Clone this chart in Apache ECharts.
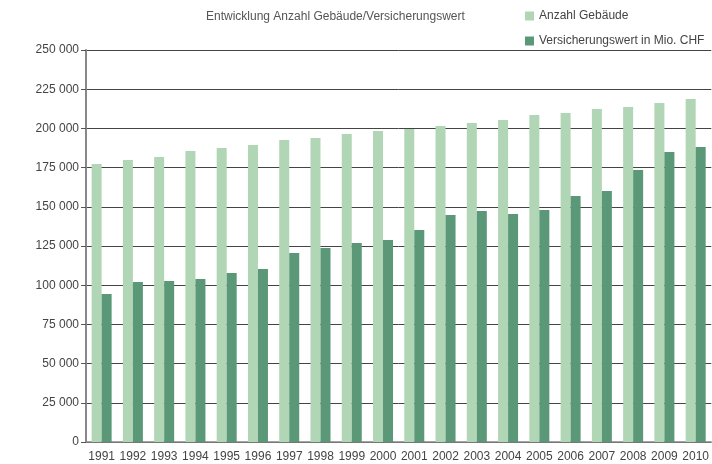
<!DOCTYPE html>
<html>
<head>
    <meta charset="utf-8">
    <title>ECharts</title>
    <script src="https://cdn.jsdelivr.net/npm/echarts@6/dist/echarts.min.js"></script>
    <style>
        body { margin: 0; background: #fff; }
    </style>
</head>
<body>
    <div id="main" style="width: 712px;height:464px;"></div>
    <script type="text/javascript">
        // Jahre
        var years = ['1991', '1992', '1993', '1994', '1995', '1996', '1997', '1998', '1999', '2000',
                     '2001', '2002', '2003', '2004', '2005', '2006', '2007', '2008', '2009', '2010'];
        // Anzahl Gebäude
        var anzahl = [177300, 179800, 181800, 185600, 187500, 189400, 192600, 193900, 196400, 198300,
                      199600, 201500, 203400, 205400, 208500, 209800, 212400, 213600, 216200, 218800];
        // Versicherungswert in Mio. CHF
        var wert = [94400, 102000, 102700, 104000, 107800, 110300, 120500, 123700, 126900, 128800,
                    135200, 144800, 147300, 145400, 148000, 156900, 160100, 173500, 184900, 188100];

        var myChart = echarts.init(document.getElementById('main'));
        var font = 'Liberation Sans, Arial, sans-serif';
        var option = {
            animation: false,
            textStyle: { fontFamily: font },
            title: {
                text: 'Entwicklung Anzahl Gebäude/Versicherungswert',
                left: 201,
                top: 6,
                textStyle: { fontSize: 12, fontWeight: 'normal', color: '#555', fontFamily: font }
            },
            legend: {
                orient: 'vertical',
                left: 520,
                top: 5,
                itemWidth: 9,
                itemHeight: 9,
                itemGap: 13,
                icon: 'rect',
                textStyle: { fontSize: 12, color: '#444', fontFamily: font },
                data: ['Anzahl Gebäude', 'Versicherungswert in Mio. CHF']
            },
            grid: {
                left: 86,
                right: 0,
                top: 50,
                bottom: 22,
                containLabel: false
            },
            xAxis: {
                type: 'category',
                data: years,
                axisLine: { lineStyle: { color: '#888', width: 1.5 } },
                axisTick: { length: 5, lineStyle: { color: '#555' } },
                axisLabel: { color: '#444', fontSize: 12, margin: 9, interval: 0 }
            },
            yAxis: {
                type: 'value',
                min: 0,
                max: 250000,
                interval: 25000,
                axisLine: { show: true, lineStyle: { color: '#888', width: 2 } },
                axisTick: { show: true, length: 5, lineStyle: { color: '#555' } },
                axisLabel: {
                    color: '#444',
                    fontSize: 12,
                    margin: 7,
                    formatter: function (v) {
                        return String(v).replace(/\B(?=(\d{3})+(?!\d))/g, ' ');
                    }
                },
                splitLine: { lineStyle: { color: '#444', width: 1 } }
            },
            series: [
                {
                    name: 'Anzahl Gebäude',
                    type: 'bar',
                    data: anzahl,
                    barWidth: 10,
                    barGap: '0%',
                    itemStyle: { color: '#b1d6b5' }
                },
                {
                    name: 'Versicherungswert in Mio. CHF',
                    type: 'bar',
                    data: wert,
                    barWidth: 10,
                    barGap: '0%',
                    itemStyle: { color: '#5a9877' }
                }
            ]
        };
        myChart.setOption(option);
    </script>
</body>
</html>
